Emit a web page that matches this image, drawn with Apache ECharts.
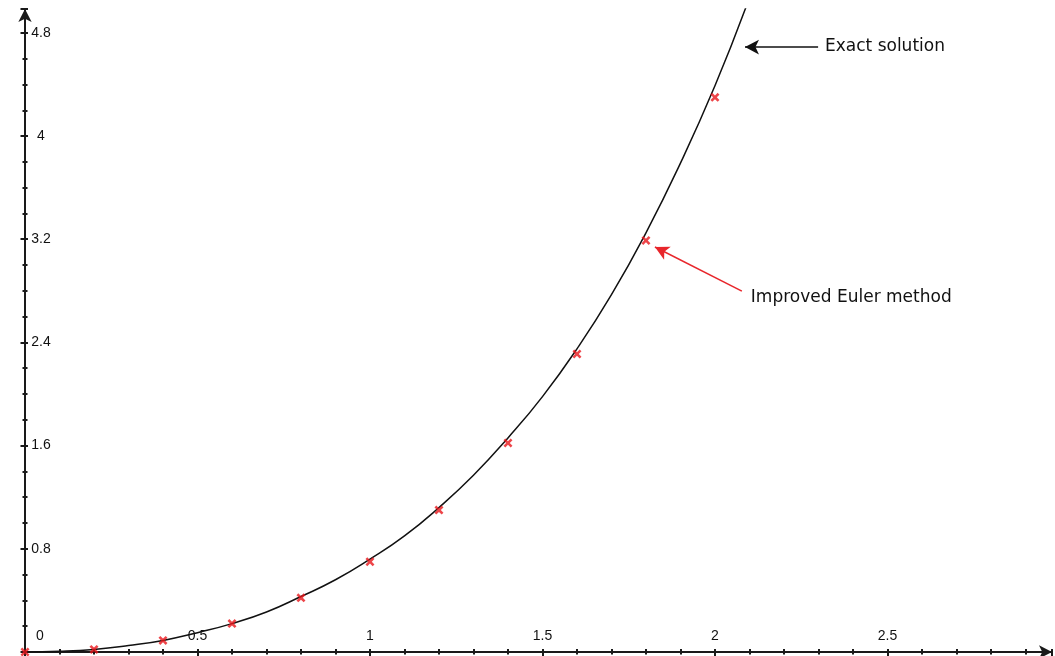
<!DOCTYPE html>
<html>
<head>
<meta charset="utf-8">
<script src="https://cdn.jsdelivr.net/npm/echarts@6/dist/echarts.min.js"></script>
<style>
html,body{margin:0;padding:0;background:#fff;}
#c{width:1055px;height:656px;}
</style>
</head>
<body>
<div id="c"></div>
<script>
// Exact solution curve
var exactX = [0, 0.1, 0.2, 0.3, 0.4, 0.5, 0.6, 0.7, 0.8, 0.9, 1.0, 1.1, 1.2, 1.3, 1.4, 1.5, 1.6, 1.7, 1.8, 1.9, 2.0, 2.09];
var exactY = [0, 0.005, 0.02, 0.05, 0.09, 0.15, 0.22, 0.31, 0.43, 0.56, 0.72, 0.90, 1.12, 1.37, 1.66, 1.98, 2.35, 2.77, 3.25, 3.79, 4.39, 5.00];
// Improved Euler method points
var eulerX = [0, 0.2, 0.4, 0.6, 0.8, 1.0, 1.2, 1.4, 1.6, 1.8, 2.0];
var eulerY = [0, 0.02, 0.09, 0.22, 0.42, 0.70, 1.10, 1.62, 2.31, 3.19, 4.30];
// Tick labels
var xTickLabels = [0.5, 1, 1.5, 2, 2.5];
var yTickLabels = [0.8, 1.6, 2.4, 3.2, 4, 4.8];
var originLabel = '0';
var exactLabel = 'Exact solution';
var eulerLabel = 'Improved Euler method';

var X_MAX = 2.977, Y_MAX = 4.985;
var tickFont = '"Liberation Sans", Arial, sans-serif';
var annFont = '"DejaVu Sans", sans-serif';

function pairs(xs, ys){ return xs.map(function(x,i){ return [x, ys[i]]; }); }
function hasLabel(list, v){ return list.some(function(t){ return Math.abs(t - v) < 1e-6; }); }

var chart = echarts.init(document.getElementById('c'), null, {renderer:'canvas'});

var crossShape = 'path://M2,0 L5,3 L8,0 L10,2 L7,5 L10,8 L8,10 L5,7 L2,10 L0,8 L3,5 L0,2 Z';

var option = {
  animation: false,
  backgroundColor: '#ffffff',
  grid: {left: 25, top: 9, right: 3, bottom: 4, containLabel: false},
  xAxis: [
    {
      type: 'value', min: 0, max: X_MAX, interval: 0.5, position: 'bottom',
      axisLine: {show: true, onZero: false, symbol: ['none', 'arrow'], symbolSize: [10, 13],
        lineStyle: {color: '#1a1a1a', width: 2}},
      axisTick: {show: true, inside: true, length: 3, lineStyle: {color: '#1a1a1a', width: 2}},
      minorTick: {show: true, splitNumber: 5, length: 3, lineStyle: {color: '#1a1a1a', width: 2}},
      axisLabel: {show: true, inside: true, margin: 9, color: '#111', fontSize: 14, fontFamily: tickFont,
        formatter: function(v){ return hasLabel(xTickLabels, v) ? String(v) : ''; }},
      splitLine: {show: false}, minorSplitLine: {show: false}
    },
    {
      type: 'value', min: 0, max: X_MAX, interval: 0.5, position: 'bottom',
      axisLine: {show: false, onZero: false},
      axisTick: {show: true, inside: false, length: 4, lineStyle: {color: '#1a1a1a', width: 2}},
      minorTick: {show: true, splitNumber: 5, length: 2.5, lineStyle: {color: '#1a1a1a', width: 2}},
      axisLabel: {show: false}, splitLine: {show: false}
    }
  ],
  yAxis: [
    {
      type: 'value', min: 0, max: Y_MAX, interval: 0.8, position: 'left',
      axisLine: {show: true, onZero: false, symbol: ['none', 'arrow'], symbolSize: [10, 13],
        lineStyle: {color: '#1a1a1a', width: 2}},
      axisTick: {show: true, inside: true, length: 3, lineStyle: {color: '#1a1a1a', width: 2}},
      minorTick: {show: true, splitNumber: 4, length: 2.5, lineStyle: {color: '#1a1a1a', width: 2}},
      axisLabel: {show: true, inside: true, margin: 16, align: 'center', color: '#111', fontSize: 14, fontFamily: tickFont,
        formatter: function(v){ return hasLabel(yTickLabels, v) ? String(v) : ''; }},
      splitLine: {show: false}, minorSplitLine: {show: false}
    },
    {
      type: 'value', min: 0, max: Y_MAX, interval: 0.8, position: 'left',
      axisLine: {show: false, onZero: false},
      axisTick: {show: true, inside: false, length: 4.5, lineStyle: {color: '#1a1a1a', width: 2}},
      minorTick: {show: true, splitNumber: 4, length: 2.5, lineStyle: {color: '#1a1a1a', width: 2}},
      axisLabel: {show: false}, splitLine: {show: false}
    }
  ],
  series: [
    {
      name: 'Exact solution', type: 'line', xAxisIndex: 0, yAxisIndex: 0,
      data: pairs(exactX, exactY), smooth: true, showSymbol: false, symbol: 'none',
      lineStyle: {color: '#111', width: 1.5}, z: 3, clip: true,
      markLine: {
        silent: true, animation: false, symbol: ['none', 'arrow'], symbolSize: [11, 14],
        label: {show: false},
        lineStyle: {color: '#111', width: 1.5, type: 'solid'},
        data: [[{coord: [2.299, 4.69]}, {coord: [2.087, 4.69]}]]
      }
    },
    {
      name: 'Improved Euler method', type: 'scatter', xAxisIndex: 0, yAxisIndex: 0,
      data: pairs(eulerX, eulerY), symbol: crossShape, symbolSize: 9,
      itemStyle: {color: '#e8161c'}, z: 5, clip: false,
      markLine: {
        silent: true, animation: false, symbol: ['none', 'arrow'], symbolSize: [11, 14],
        label: {show: false},
        lineStyle: {color: '#e8262b', width: 1.5, type: 'solid'},
        data: [[{coord: [2.078, 2.798]}, {coord: [1.826, 3.14]}]]
      }
    }
  ]
};
chart.setOption(option);

var o = chart.convertToPixel({gridIndex: 0}, [0, 0]);
var pExact = chart.convertToPixel({gridIndex: 0}, [2.319, 4.69]);
var pEuler = chart.convertToPixel({gridIndex: 0}, [2.104, 2.744]);
chart.setOption({
  graphic: [
    {type: 'text', x: o[0] + 15, y: o[1] - 16, z: 10,
      style: {text: originLabel, fill: '#111', font: '14px ' + tickFont, align: 'center', verticalAlign: 'middle'}},
    {type: 'text', x: pExact[0], y: pExact[1], z: 10,
      style: {text: exactLabel, fill: '#111', font: '17px ' + annFont, align: 'left', verticalAlign: 'middle'}},
    {type: 'text', x: pEuler[0], y: pEuler[1], z: 10,
      style: {text: eulerLabel, fill: '#111', font: '17px ' + annFont, align: 'left', verticalAlign: 'middle'}}
  ]
});
</script>
</body>
</html>
